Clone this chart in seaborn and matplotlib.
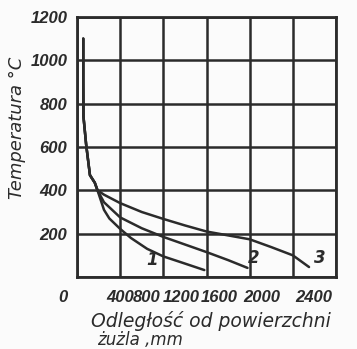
import numpy as np
import pandas as pd
import matplotlib
matplotlib.use("Agg")
import matplotlib.pyplot as plt
import seaborn as sns

# shared steep part near the slag surface
trunk_x = [58, 58, 60, 85, 120, 165, 190]
trunk_y = [1100, 900, 740, 610, 470, 435, 400]

c1_x = [250, 300, 400, 500, 650, 800, 1000, 1180]
c1_y = [310, 270, 222, 180, 130, 95, 62, 32]
c2_x = [250, 400, 600, 800, 1000, 1200, 1400, 1580]
c2_y = [345, 275, 225, 185, 150, 115, 78, 42]
c3_x = [250, 400, 600, 800, 1000, 1200, 1400, 1600, 1800, 2000, 2150]
c3_y = [380, 341, 300, 268, 238, 210, 192, 174, 138, 100, 46]

curve_names = ["1", "2", "3"]
label_x = [698, 1637, 2251]
label_y = [78, 88, 88]

xtick_vals = ["0", "400", "800", "1200", "1600", "2000", "2400"]
xtick_pos = [-130, 400, 642, 968, 1321, 1712, 2195]  # hand-lettered positions
ytick_vals = [0, 200, 400, 600, 800, 1000, 1200]

rows = []
for name, xs, ys in zip(curve_names, [c1_x, c2_x, c3_x], [c1_y, c2_y, c3_y]):
    for i, (x, y) in enumerate(zip(trunk_x + xs, trunk_y + ys)):
        rows.append({"curve": name, "order": i, "x": x, "y": y})
df = pd.DataFrame(rows)

sns.set_style("white")
ink = "#2b2b2b"
num_font = dict(family="Liberation Sans", fontsize=12, fontweight="bold",
                fontstyle="italic", color=ink)

fig = plt.figure(figsize=(3.57, 3.49), dpi=100, facecolor="#fbfbfb")
ax = fig.add_axes([77/357, 1-277/349, (336-77)/357, (277-17)/349])
ax.set_facecolor("#fbfbfb")

sns.lineplot(data=df, x="x", y="y", hue="curve", units="curve", estimator=None,
             sort=False, palette=[ink]*3, linewidth=1.8, legend=False, ax=ax)

ax.set_xlim(0, 2400)
ax.set_ylim(0, 1200)
ax.set_xticks(range(0, 2401, 400))
ax.set_xticklabels([])
ax.set_yticks(ytick_vals)
ax.set_yticklabels([""] + [str(v) for v in ytick_vals[1:]], **num_font)
ax.tick_params(length=0, pad=7)
ax.grid(True, color=ink, linewidth=1.8)
for s in ax.spines.values():
    s.set_color(ink)
    s.set_linewidth(2)
ax.set_xlabel("")
ax.set_ylabel("")

for lab, pos in zip(xtick_vals, xtick_pos):
    ax.text(pos, -0.08, lab, transform=ax.get_xaxis_transform(), ha="center",
            va="center", **num_font)

for name, lx, ly in zip(curve_names, label_x, label_y):
    ax.text(lx, ly, name, ha="center", va="center", fontsize=12,
            fontweight="bold", fontstyle="italic", color=ink)

fig.text(17/357, 1-128/349, "Temperatura °C", rotation=90, ha="center", va="center",
         fontsize=13, fontstyle="italic", color=ink)
fig.text(211/357, 1-321/349, "Odległość od powierzchni", ha="center", va="center",
         fontsize=13.5, fontstyle="italic", color=ink)
fig.text(97/357, 1-340/349, "żużla ,mm", ha="left", va="center",
         fontsize=12, fontstyle="italic", color=ink)

fig.savefig("out.png", dpi=100, facecolor=fig.get_facecolor())
